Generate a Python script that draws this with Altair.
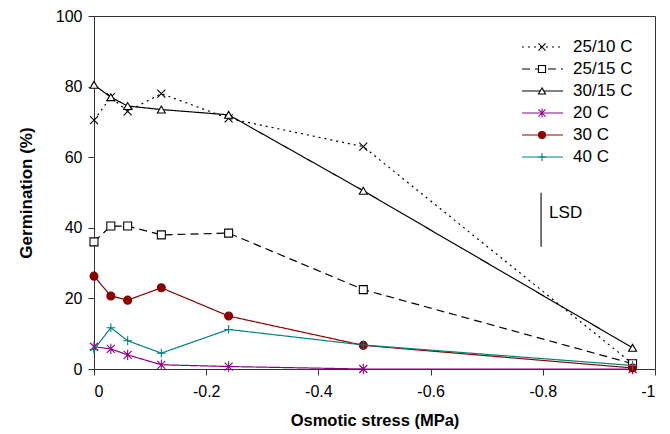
import altair as alt
import pandas as pd

stress = [0, -0.03, -0.06, -0.12, -0.24, -0.48, -0.96]
series_names = ["25/10 C", "25/15 C", "30/15 C", "20 C", "30 C", "40 C"]
g_25_10 = [70.5, 77, 73, 78, 71, 63, 1.5]
g_25_15 = [36, 40.5, 40.5, 38, 38.5, 22.5, 1.5]
g_30_15 = [80.5, 77, 74.5, 73.5, 72, 50.5, 6]
g_20 = [6.3, 5.7, 4, 1.2, 0.7, 0, 0]
g_30 = [26.3, 20.7, 19.5, 23, 15, 6.7, 0.3]
g_40 = [5.5, 11.7, 8, 4.5, 11.2, 6.8, 1]
lsd_x = [-0.797]
lsd_low = [34.6]
lsd_high = [49.9]
lsd_label_y = [44.2]

colors = ["#000000", "#000000", "#000000", "#8B008B", "#8B0000", "#008080"]
dashes = [[2, 4], [8, 5], [1, 0], [1, 0], [1, 0], [1, 0]]
shapes = [
    "M-1,-1L1,1M-1,1L1,-1",
    "square",
    "triangle-up",
    "M-1,-1L1,1M-1,1L1,-1M0,-1.3L0,1.3",
    "circle",
    "M-1.1,0L1.1,0M0,-1.1L0,1.1",
]
fills = ["transparent", "white", "white", "transparent", "#8B0000", "transparent"]

rows = []
for name, vals in zip(series_names, [g_25_10, g_25_15, g_30_15, g_20, g_30, g_40]):
    for s, v in zip(stress, vals):
        rows.append({"series": name, "stress": s, "germ": v})
df = pd.DataFrame(rows)

color = alt.Color("series:N", scale=alt.Scale(domain=series_names, range=colors), legend=None)
dash = alt.StrokeDash("series:N", scale=alt.Scale(domain=series_names, range=dashes), legend=None)
shape = alt.Shape("series:N", scale=alt.Scale(domain=series_names, range=shapes), legend=None)
fill = alt.Fill("series:N", scale=alt.Scale(domain=series_names, range=fills), legend=None)

x = alt.X("stress:Q", scale=alt.Scale(domain=[-1, 0], reverse=True, nice=False),
          axis=alt.Axis(values=[0, -0.2, -0.4, -0.6, -0.8, -1], labelExpr="toString(datum.value)",
                        title="Osmotic stress (MPa)", titlePadding=13, labelPadding=8,
                        titleFontSize=16.5))
y = alt.Y("germ:Q", scale=alt.Scale(domain=[0, 100], nice=False),
          axis=alt.Axis(values=[0, 20, 40, 60, 80, 100], title="Germination (%)", titlePadding=20,
                        labelPadding=6, titleFontSize=17))

base = alt.Chart(df)
lines = base.mark_line(strokeWidth=1.2).encode(x=x, y=y, color=color, strokeDash=dash, detail="series:N")
points = base.mark_point(size=64, strokeWidth=1.1, opacity=1).encode(
    x=x, y=y, color=color, shape=shape, fill=fill)

lsd_df = pd.DataFrame({"x": lsd_x, "lo": lsd_low, "hi": lsd_high, "ly": lsd_label_y, "label": ["LSD"]})
lsd_rule = alt.Chart(lsd_df).mark_rule(color="#555555", strokeWidth=1.6).encode(
    x=alt.X("x:Q"), y=alt.Y("lo:Q"), y2="hi:Q")
lsd_text = alt.Chart(lsd_df).mark_text(align="left", baseline="middle", dx=8, fontSize=17,
                                        font="Liberation Sans", color="black").encode(
    x=alt.X("x:Q"), y=alt.Y("ly:Q"), text="label:N")

leg_df = pd.DataFrame({"series": series_names})
ly = alt.Y("series:N", sort=series_names, scale=alt.Scale(type="point", range=[31, 141], padding=0), axis=None)
leg_line = alt.Chart(leg_df).mark_rule(strokeWidth=1.2).encode(
    x=alt.value(428), x2=alt.value(469), y=ly, color=color, strokeDash=dash)
leg_pt = alt.Chart(leg_df).mark_point(size=50, strokeWidth=1.1, opacity=1).encode(
    x=alt.value(448), y=ly, color=color, shape=shape, fill=fill)
leg_txt = alt.Chart(leg_df).mark_text(align="left", baseline="middle", fontSize=17,
                                       font="Liberation Sans", color="black").encode(
    x=alt.value(479), y=ly, text="series:N")

legend = alt.layer(leg_line, leg_pt, leg_txt)
main = alt.layer(lines, points, lsd_rule, lsd_text)

chart = alt.layer(main, legend).resolve_scale(y="independent").properties(
    width=561, height=353,
    background="white",
    autosize=alt.AutoSizeParams(type="none"),
    padding={"left": 94, "top": 16, "right": 15, "bottom": 65},
).configure_view(stroke="#333333", strokeWidth=1).configure_axis(
    grid=False, domainColor="#333333", tickColor="#333333", tickSize=6,
    labelFont="Liberation Sans", labelFontSize=16, labelColor="black",
    titleFont="Liberation Sans", titleFontWeight="bold", titleColor="black",
)

chart.save("out.html", embed_options={"renderer": "svg", "actions": False})
